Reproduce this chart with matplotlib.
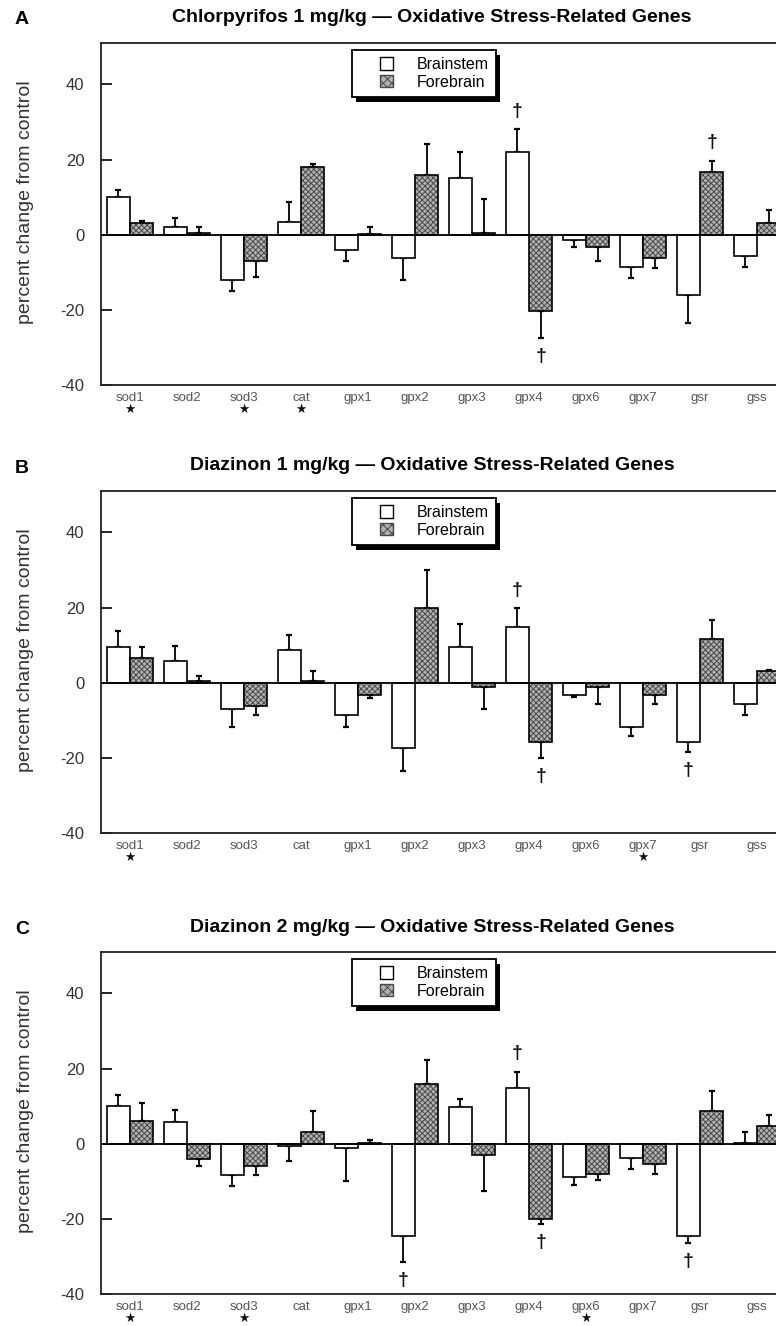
"""Oxidative stress gene expression, brainstem vs forebrain, three treatments."""

import matplotlib

matplotlib.use("Agg")
import matplotlib.pyplot as plt
import numpy as np
from matplotlib.legend_handler import HandlerPatch
from matplotlib.patches import Patch, Rectangle

plt.rcParams["font.family"] = ["Liberation Sans", "DejaVu Sans"]
plt.rcParams["hatch.linewidth"] = 0.7
plt.rcParams["axes.unicode_minus"] = False

genes = ["sod1", "sod2", "sod3", "cat", "gpx1", "gpx2", "gpx3", "gpx4", "gpx6", "gpx7", "gsr", "gss"]

# Panel A: chlorpyrifos 1 mg/kg
cpf1_brainstem = [10, 2, -12, 3.5, -4, -6.2, 15, 22, -1.3, -8.6, -16, -5.6]
cpf1_brainstem_sem = [2, 2.4, 3, 5.2, 3, 5.8, 7, 6, 2, 2.8, 7.5, 3]
cpf1_forebrain = [3.2, 0.5, -7, 18, 0.3, 16, 0.5, -20.3, -3.2, -6.2, 16.7, 3.2]
cpf1_forebrain_sem = [0.5, 1.5, 4.3, 0.9, 1.7, 8, 9.1, 7.3, 3.9, 2.6, 3, 3.3]
cpf1_daggers = [("brainstem", "gpx4"), ("forebrain", "gpx4"), ("forebrain", "gsr")]
cpf1_stars = ["sod1", "sod3", "cat"]

# Panel B: diazinon 1 mg/kg
dzn1_brainstem = [9.6, 5.7, -7, 8.7, -8.5, -17.3, 9.5, 14.7, -3.2, -11.7, -15.8, -5.6]
dzn1_brainstem_sem = [4.2, 4, 4.9, 4, 3.4, 6.2, 6.2, 5.1, 0.7, 2.6, 2.7, 2.9]
dzn1_forebrain = [6.6, 0.5, -6.2, 0.5, -3.2, 19.9, -1.2, -15.8, -1.2, -3.2, 11.7, 3.2]
dzn1_forebrain_sem = [3, 1.4, 2.3, 2.5, 0.8, 10, 5.8, 4.3, 4.4, 2.4, 5.1, 0.3]
dzn1_daggers = [("brainstem", "gpx4"), ("forebrain", "gpx4"), ("brainstem", "gsr")]
dzn1_stars = ["sod1", "gpx7"]

# Panel C: diazinon 2 mg/kg
dzn2_brainstem = [9.9, 5.7, -8.4, -0.6, -1.1, -24.6, 9.7, 14.9, -8.8, -3.8, -24.6, 0.2]
dzn2_brainstem_sem = [3, 3.3, 2.8, 4, 8.8, 6.9, 2.3, 4.2, 2.3, 3, 1.9, 3]
dzn2_forebrain = [5.9, -4, -6, 3.2, 0.2, 16, -3, -20, -8.1, -5.4, 8.8, 4.7]
dzn2_forebrain_sem = [4.9, 2, 2.4, 5.6, 0.9, 6.2, 9.7, 1.4, 1.6, 2.7, 5.2, 3]
dzn2_daggers = [("brainstem", "gpx2"), ("brainstem", "gpx4"), ("forebrain", "gpx4"), ("brainstem", "gsr")]
dzn2_stars = ["sod1", "sod3", "gpx6"]

panels = [
    ("A", "Chlorpyrifos 1 mg/kg \u2014 Oxidative Stress-Related Genes",
     cpf1_brainstem, cpf1_brainstem_sem, cpf1_forebrain, cpf1_forebrain_sem, cpf1_daggers, cpf1_stars),
    ("B", "Diazinon 1 mg/kg \u2014 Oxidative Stress-Related Genes",
     dzn1_brainstem, dzn1_brainstem_sem, dzn1_forebrain, dzn1_forebrain_sem, dzn1_daggers, dzn1_stars),
    ("C", "Diazinon 2 mg/kg \u2014 Oxidative Stress-Related Genes",
     dzn2_brainstem, dzn2_brainstem_sem, dzn2_forebrain, dzn2_forebrain_sem, dzn2_daggers, dzn2_stars),
]

W, H = 776, 1326
AX_LEFT, AX_RIGHT = 101, 785.5
AX_TOPS = [43, 491, 952]
AX_HEIGHT = 342
BAR_W = 0.41
HATCH_FACE = "#b2b2b2"
HATCH_LINE = "#4a4a4a"


def one_sided(values, sem):
    v = np.asarray(values, dtype=float)
    e = np.asarray(sem, dtype=float)
    lower = np.where(v < 0, e, 0.0)
    upper = np.where(v >= 0, e, 0.0)
    return v, np.vstack([lower, upper])


def square_handle(legend, orig_handle, xdescent, ydescent, width, height, fontsize):
    s = 0.78 * fontsize
    return Rectangle((-xdescent + width - s, -ydescent + (height - s) / 2), s, s)


fig = plt.figure(figsize=(W / 100, H / 100), dpi=100)
x = np.arange(len(genes))
legends = []

for (letter, title, bs, bs_sem, fb, fb_sem, daggers, stars), top in zip(panels, AX_TOPS):
    ax = fig.add_axes([AX_LEFT / W, 1 - (top + AX_HEIGHT) / H, (AX_RIGHT - AX_LEFT) / W, AX_HEIGHT / H])
    ax.set_xlim(-0.51, 11.5)
    ax.set_ylim(-40, 51)

    xb = x - BAR_W / 2
    xf = x + BAR_W / 2
    vb, eb = one_sided(bs, bs_sem)
    vf, ef = one_sided(fb, fb_sem)

    ax.bar(xb, vb, BAR_W, facecolor="white", edgecolor="black", linewidth=1.2, zorder=2)
    ax.bar(xf, vf, BAR_W, facecolor=HATCH_FACE, edgecolor=HATCH_LINE, hatch="xxxxxx", linewidth=0, zorder=2)
    ax.bar(xf, vf, BAR_W, fill=False, edgecolor="black", linewidth=1.2, zorder=2.1)
    for xx, vv, ee in ((xb, vb, eb), (xf, vf, ef)):
        ax.errorbar(xx, vv, yerr=ee, fmt="none", ecolor="black", elinewidth=1.3,
                    capsize=2.5, capthick=1.6, zorder=1.5)
    ax.axhline(0, color="black", linewidth=1.3, zorder=3)

    # significance daggers beyond the error bar tips
    for region, gene in daggers:
        i = genes.index(gene)
        if region == "brainstem":
            xpos, v, e = xb[i], vb[i], eb[:, i].sum()
        else:
            xpos, v, e = xf[i], vf[i], ef[:, i].sum()
        tip = v + np.sign(v) * e
        ax.text(xpos, tip + np.sign(v) * 4.8, "\u2020", ha="center", va="center", fontsize=14,
                fontweight="bold", color="#111")

    # stars under the gene names
    for gene in stars:
        ax.annotate("\u2605", xy=(genes.index(gene), 0), xycoords=("data", "axes fraction"),
                    xytext=(0, -17.5), textcoords="offset points", ha="center", va="center",
                    fontsize=9, color="#111", family="DejaVu Sans")

    ax.set_xticks(x)
    ax.set_xticklabels(genes, fontsize=9.5, color="#555")
    ax.set_yticks([-40, -20, 0, 20, 40])
    ax.tick_params(axis="x", length=0, pad=5)
    ax.tick_params(axis="y", direction="in", length=8, width=1.2, labelsize=12, labelcolor="#333", pad=12)
    ax.spines["right"].set_visible(False)
    for side in ("top", "left", "bottom"):
        ax.spines[side].set_linewidth(1.3)
        ax.spines[side].set_color("#222")
    ax.set_ylabel("percent change from control", fontsize=14, color="#333")
    ax.yaxis.set_label_coords(-(AX_LEFT - 34) / (AX_RIGHT - AX_LEFT), 0.535)

    fig.text(432 / W, 1 - (top - 25) / H, title, ha="center", va="center", fontsize=14, fontweight="bold")
    fig.text(22 / W, 1 - (top - 23) / H, letter, ha="center", va="center", fontsize=14, fontweight="bold")

    handles = [Patch(facecolor="white", edgecolor="black", linewidth=1.0),
               Patch(facecolor=HATCH_FACE, edgecolor=HATCH_LINE, hatch="xxxx", linewidth=1.0)]
    leg = ax.legend(handles, ["Brainstem", "Forebrain"], loc="upper left",
                    bbox_to_anchor=((352 - AX_LEFT) / (AX_RIGHT - AX_LEFT), 1 - 7 / AX_HEIGHT),
                    borderaxespad=0, fontsize=11.5, frameon=True, fancybox=False, framealpha=1,
                    edgecolor="black", borderpad=0.45, labelspacing=0.15, handlelength=2.1,
                    handleheight=0.8, handletextpad=1.5,
                    handler_map={Patch: HandlerPatch(patch_func=square_handle)})
    leg.get_frame().set_linewidth(1.3)
    leg.set_zorder(6)
    legends.append((ax, leg))

# solid drop shadow behind each legend box
fig.canvas.draw()
for ax, leg in legends:
    bb = leg.get_frame().get_window_extent().transformed(ax.transAxes.inverted())
    dx = 4 / (AX_RIGHT - AX_LEFT)
    dy = 5 / AX_HEIGHT
    ax.add_patch(Rectangle((bb.x0 + dx, bb.y0 - dy), bb.width, bb.height, transform=ax.transAxes,
                           facecolor="black", edgecolor="none", zorder=5.9, clip_on=False))

fig.savefig("out.png", dpi=100, facecolor="white")
